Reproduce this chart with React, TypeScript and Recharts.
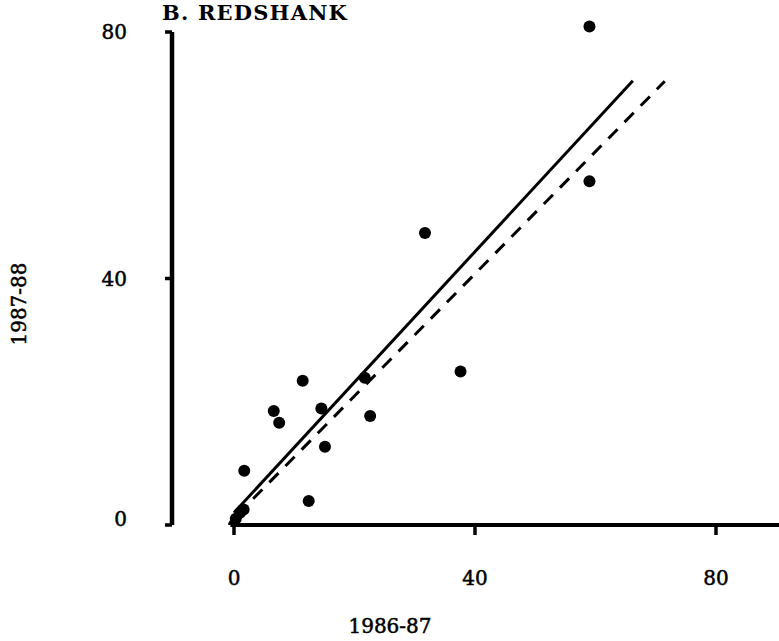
import React from 'react';
import { ScatterChart, Scatter, XAxis, YAxis, ReferenceLine } from 'recharts';

// Redshank counts per site, 1986-87 season (x) against 1987-88 season (y)
const counts8687 = [0, 0.3, 1.0, 1.6, 1.7, 6.6, 7.5, 11.4, 12.4, 14.5, 15.1, 21.7, 22.6, 31.7, 37.6, 59.0, 59.0];
const counts8788 = [0, 1.0, 2.0, 2.5, 8.8, 18.5, 16.6, 23.4, 3.9, 18.9, 12.7, 23.9, 17.7, 47.4, 24.9, 80.9, 55.8];

const xTicks = [0, 40, 80];
const yTicks = [0, 40, 80];

// Fitted regression (solid) and reference line (dashed), as end points
const solidFitX = [0, 66.2];
const solidFitY = [2.0, 72.1];
const dashedFitX = [0.5, 71.5];
const dashedFitY = [1.6, 72.0];

const X_DOMAIN: [number, number] = [-10.29, 90.46];
const Y_DOMAIN: [number, number] = [0, 84];
const Y_AXIS_TOP = 80;

const sites = counts8687.map((x, i) => ({ x, y: counts8788[i] }));

const serif = '"DejaVu Serif", "Liberation Serif", serif';

const XTick = (props: any) => {
  const { x, y, payload } = props;
  return (
    <text x={x} y={y} dy={43} textAnchor="middle" dominantBaseline="central"
      fontFamily={serif} fontSize={20} fill="#000" stroke="#000" strokeWidth={0.5}>
      {payload.value}
    </text>
  );
};

const YTick = (props: any) => {
  const { x, y, payload } = props;
  return (
    <text x={x} y={y} dy={payload.value === 0 ? -6 : 0} textAnchor="end" dominantBaseline="central"
      fontFamily={serif} fontSize={20} fill="#000" stroke="#000" strokeWidth={0.5}>
      {payload.value}
    </text>
  );
};

const Dot = (props: any) => {
  const { cx, cy } = props;
  return <circle cx={cx} cy={cy} r={6} fill="#000" />;
};

const heavyText = { WebkitTextStroke: '0.5px #000' } as React.CSSProperties;

export default function App() {
  return (
    <div style={{ position: 'absolute', left: 0, top: 0, width: 779, height: 641, background: '#fff' }}>
      <div style={{
        position: 'absolute', left: 162, top: 1, fontFamily: serif,
        fontWeight: 700, fontSize: 21, lineHeight: '24px', letterSpacing: 1.2, color: '#000', whiteSpace: 'pre',
      }}>
        B. REDSHANK
      </div>
      <div style={{
        position: 'absolute', left: 19, top: 304, transform: 'translate(-50%, -50%) rotate(-90deg)',
        fontFamily: serif, fontSize: 20, color: '#000', whiteSpace: 'pre', ...heavyText,
      }}>
        1987-88
      </div>
      <div style={{
        position: 'absolute', left: 390, top: 626, transform: 'translate(-50%, -50%)',
        fontFamily: serif, fontSize: 20, color: '#000', whiteSpace: 'pre', ...heavyText,
      }}>
        1986-87
      </div>
      <ScatterChart width={779} height={641} margin={{ top: 7.35, right: 0, bottom: 86, left: 112 }}>
        <XAxis
          type="number" dataKey="x" domain={X_DOMAIN} allowDataOverflow ticks={xTicks} interval={0}
          height={30} axisLine={false} tickSize={10} tickMargin={0}
          tickLine={{ stroke: '#000', strokeWidth: 3.5 }} tick={<XTick />}
        />
        <YAxis
          type="number" dataKey="y" domain={Y_DOMAIN} allowDataOverflow ticks={yTicks} interval={0}
          width={60} axisLine={false} tickSize={7} tickMargin={38}
          tickLine={{ stroke: '#000', strokeWidth: 3.5 }} tick={<YTick />}
        />
        <ReferenceLine
          segment={[{ x: X_DOMAIN[0], y: 0 }, { x: X_DOMAIN[0], y: Y_AXIS_TOP }]}
          stroke="#000" strokeWidth={4.5} ifOverflow="visible"
        />
        <ReferenceLine
          segment={[{ x: -0.6, y: 0 }, { x: X_DOMAIN[1], y: 0 }]}
          stroke="#000" strokeWidth={4} ifOverflow="visible"
        />
        <ReferenceLine
          segment={[{ x: solidFitX[0], y: solidFitY[0] }, { x: solidFitX[1], y: solidFitY[1] }]}
          stroke="#000" strokeWidth={3} ifOverflow="visible"
        />
        <ReferenceLine
          segment={[{ x: dashedFitX[0], y: dashedFitY[0] }, { x: dashedFitX[1], y: dashedFitY[1] }]}
          stroke="#000" strokeWidth={3} strokeDasharray="13 10" ifOverflow="visible"
        />
        <Scatter data={sites} shape={<Dot />} isAnimationActive={false} />
      </ScatterChart>
    </div>
  );
}
